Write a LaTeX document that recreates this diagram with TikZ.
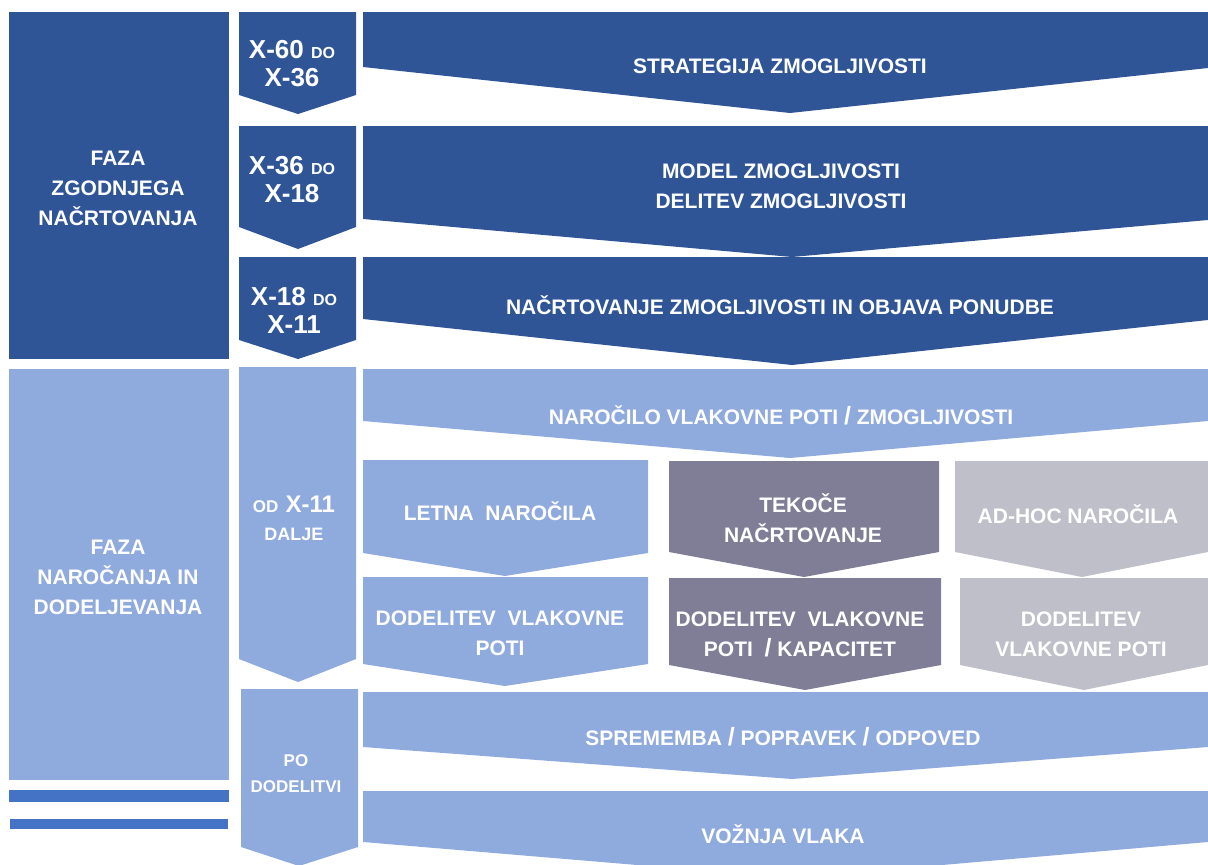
\documentclass[tikz,border=0pt]{standalone}
\usepackage{fontspec}
\setmainfont{Liberation Sans}
\usepackage{xcolor}
\usepackage{tikz}
\usetikzlibrary{positioning, calc}

\definecolor{darkblue}{HTML}{2F5597}
\definecolor{lightblue}{HTML}{8FAADC}
\definecolor{slate}{HTML}{7F7E96}
\definecolor{ashgray}{HTML}{BFBFC9}
\definecolor{barblue}{HTML}{4472C4}

\begin{document}
\begin{tikzpicture}[
        x=1pt, y=-1pt,
        dark/.style={fill=darkblue},
        light/.style={fill=lightblue},
        grayA/.style={fill=slate},
        grayB/.style={fill=ashgray},
        label/.style={text=white, align=center, inner sep=0pt, font=\bfseries\fontsize{21}{30}\selectfont},
        big/.style={label, font=\bfseries\fontsize{26}{28}\selectfont},
        small/.style={label, font=\bfseries\fontsize{17}{26}\selectfont}
    ]
        \useasboundingbox (0,0) rectangle (1208,865);

        % phases on the left
        \fill[dark] (9,12) rectangle (229,359);
        \fill[light] (9,369) rectangle (229,780);
        \fill[barblue] (9,790) rectangle (229,802);
        \fill[barblue] (10,819) rectangle (228,829);
        \node[label] (early) at (118,188) {FAZA\\ZGODNJEGA\\NAČRTOVANJA};
        \node[label] (order) at (118,577) {FAZA\\NAROČANJA IN\\DODELJEVANJA};

        % time chevrons
        \fill[dark] (239,12) -- (356,12) -- (356,95) -- (298,114) -- (239,95) -- cycle;
        \fill[dark] (239,126) -- (356,126) -- (356,227) -- (298,249) -- (239,227) -- cycle;
        \fill[dark] (239,257) -- (356,257) -- (356,340) -- (298,359) -- (239,340) -- cycle;
        \fill[light] (239,367) -- (356,367) -- (356,659) -- (298,682) -- (239,659) -- cycle;
        \fill[light] (241,689) -- (358,689) -- (358,847) -- (299,866) -- (241,847) -- cycle;
        \node[big] (t60) at (292,64) {X-60\ {\fontsize{16}{18}\selectfont DO}\\X-36};
        \node[big] (t36) at (292,180) {X-36\ {\fontsize{16}{18}\selectfont DO}\\X-18};
        \node[big] (t18) at (294,310) {X-18 {\fontsize{16}{18}\selectfont DO}\\X-11};
        \node[big] (t11) at (294,518) {{\fontsize{17}{18}\selectfont OD} {\fontsize{24}{26}\selectfont X-11}\\{\fontsize{18}{26}\selectfont DALJE}};
        \node[small] (after) at (296,774) {PO\\DODELITVI};

        % wide arrows
        \fill[dark] (363,12) -- (1208,12) -- (1208,68) -- (790,113) -- (363,67) -- cycle;
        \fill[dark] (363,126) -- (1208,126) -- (1208,220) -- (792,257) -- (363,219) -- cycle;
        \fill[dark] (363,257) -- (1208,257) -- (1208,320) -- (792,365) -- (363,319) -- cycle;
        \fill[light] (363,369) -- (1208,369) -- (1208,421) -- (790,458) -- (363,421) -- cycle;
        \fill[light] (363,692) -- (1208,692) -- (1208,747) -- (792,779) -- (363,747) -- cycle;
        \fill[light] (363,791) -- (1208,791) -- (1208,842) -- (792,878) -- (363,842) -- cycle;
        \node[label] (strat) at (780,66) {STRATEGIJA ZMOGLJIVOSTI};
        \node[label] (model) at (781,186) {MODEL ZMOGLJIVOSTI\\DELITEV ZMOGLJIVOSTI};
        \node[label] (plan) at (780,305) {NAČRTOVANJE ZMOGLJIVOSTI IN OBJAVA PONUDBE};
        \node[label] (request) at (781,415) {NAROČILO VLAKOVNE POTI {\fontsize{25}{30}\selectfont /} ZMOGLJIVOSTI};
        \node[label] (change) at (783,737) {SPREMEMBA {\fontsize{25}{30}\selectfont /} POPRAVEK {\fontsize{25}{30}\selectfont /} ODPOVED};
        \node[label] (run) at (783,834) {VOŽNJA VLAKA};

        % order types
        \fill[light] (363,460) -- (648,460) -- (648,553) -- (505,576) -- (363,553) -- cycle;
        \fill[grayA] (669,461) -- (939,461) -- (939,552) -- (804,577) -- (669,552) -- cycle;
        \fill[grayB] (955,461) -- (1208,461) -- (1208,552) -- (1082,577) -- (955,552) -- cycle;
        \node[label] (annual) at (500,511) {LETNA\ \ NAROČILA};
        \node[label] (rolling) at (803,518) {TEKOČE\\NAČRTOVANJE};
        \node[label] (adhoc) at (1078,514) {AD-HOC NAROČILA};

        % allocation
        \fill[light] (363,577) -- (648,577) -- (648,664) -- (505,686) -- (363,664) -- cycle;
        \fill[grayA] (669,578) -- (941,578) -- (941,665) -- (805,690) -- (669,665) -- cycle;
        \fill[grayB] (960,578) -- (1208,578) -- (1208,665) -- (1084,690) -- (960,665) -- cycle;
        \node[label] (allocA) at (500,633) {DODELITEV\ \ VLAKOVNE\\POTI};
        \node[label] (allocB) at (800,634) {DODELITEV\ \ VLAKOVNE\\POTI\ \ {\fontsize{25}{30}\selectfont /} KAPACITET};
        \node[label] (allocC) at (1081,634) {DODELITEV\\VLAKOVNE POTI};
    \end{tikzpicture}
\end{document}
